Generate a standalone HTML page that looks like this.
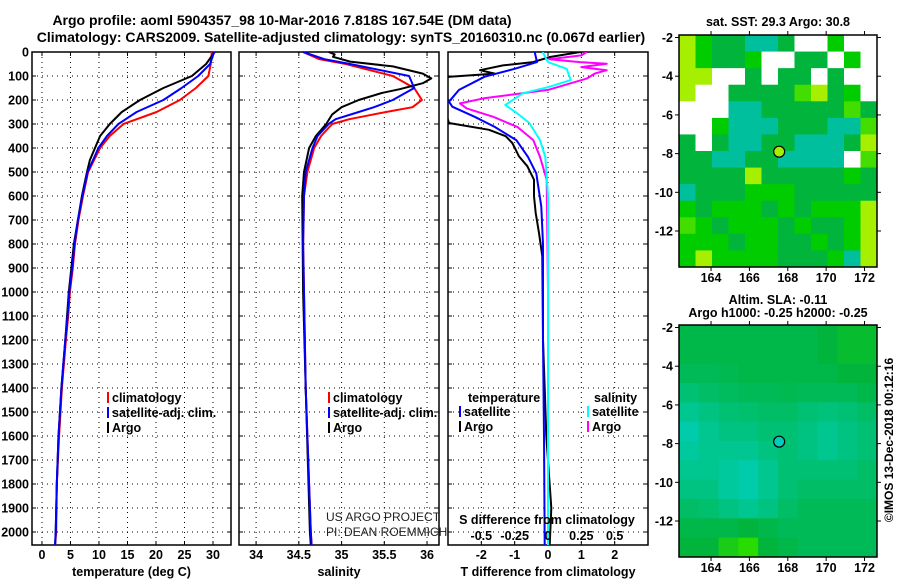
<!DOCTYPE html>
<html><head><meta charset="utf-8"><style>
body{margin:0;background:#fff;}
svg{display:block;font-family:"Liberation Sans",Arial,sans-serif;}
.b{font-weight:bold;font-size:12.5px;fill:#000;}
</style></head><body>
<svg id="c" width="900" height="580" viewBox="0 0 900 580"></svg>
<script>
// ---- data ----
const depthsT=[0,50,100,150,200,250,300,350,400,500,600,700,800,900,1000,1100,1200,1400,1600,1800,2000,2054];
const tempClim=[29.8,29.6,29.2,27.0,24.2,20.1,14.3,11.9,10.2,8.1,7.2,6.4,5.8,5.4,4.9,4.6,4.2,3.5,3.0,2.6,2.5,2.3];
const tempSat=[30.2,29.5,27.4,24.5,21.3,16.6,13.4,11.4,9.9,8.0,7.1,6.3,5.7,5.3,4.8,4.5,4.1,3.4,2.9,2.6,2.4,2.3];
const depthsArgoT=[0,50,100,150,200,250,300,350,400,450,500,600,800,1000,1200,1400,1600,1800,2000,2054];
const tempArgo=[30.3,28.8,26.3,21.3,17.2,14.0,11.9,10.2,9.3,8.4,7.9,7.0,5.6,4.7,4.1,3.4,2.9,2.6,2.4,2.3];
const depthsS=[0,30,50,100,150,200,230,250,280,300,350,400,500,600,800,1000,1400,2000,2054];
const salClim=[34.55,34.74,35.05,35.6,35.85,35.94,35.83,35.52,35.09,34.89,34.76,34.68,34.6,34.56,34.55,34.56,34.58,34.64,34.65];
const salSat=[34.55,34.8,35.1,35.79,35.85,35.6,35.38,35.2,34.93,34.85,34.72,34.66,34.58,34.56,34.55,34.56,34.58,34.64,34.65];
const depthsArgoS=[0,10,20,40,60,90,110,130,155,170,200,230,260,300,350,400,500,600,1000,1400,2000,2054];
const salArgo=[34.85,34.92,34.9,35.1,35.6,35.95,36.05,35.95,35.68,35.48,35.2,35.0,34.89,34.82,34.7,34.62,34.56,34.54,34.55,34.58,34.63,34.64];
const depthsD=[0,42,70,103,158,207,228,270,312,367,437,506,645,800,1200,1600,2054];
const tdiffSat=[-0.4,-0.33,-1.0,-1.9,-2.67,-2.97,-2.87,-2.2,-1.6,-0.95,-0.6,-0.35,-0.2,-0.15,-0.15,-0.12,-0.1];
const depthsDA=[0,21,42,56,76,90,103,117,296,324,351,379,407,435,476,532,601,671,754,851,1200,1400,1600,1900,2054];
const tdiffArgo=[0.97,0.06,-0.45,-1.35,-2.04,-1.6,-2.94,-3.4,-2.97,-1.77,-1.27,-1.07,-0.97,-0.87,-0.62,-0.42,-0.42,-0.37,-0.27,-0.17,-0.15,-0.1,-0.05,0.1,0.05];
const depthsSD=[0,21,42,70,117,145,172,221,256,296,367,437,600,2054];
const sdiffSat=[-0.04,-0.02,0,0.14,0.17,0.01,-0.19,-0.32,-0.23,-0.14,-0.06,-0.02,0,0];
const depthsSDA=[0,14,30,42,49,63,76,90,111,158,193,214,235,270,312,367,437,532,1000,2054];
const sdiffArgo=[0.29,0.25,0.01,0.24,0.44,0.25,0.44,0.35,0.29,0,-0.48,-0.66,-0.61,-0.41,-0.23,-0.11,-0.06,-0.01,0,0];
const depthTicks=[0,100,200,300,400,500,600,700,800,900,1000,1100,1200,1300,1400,1500,1600,1700,1800,1900,2000];
const tTicks=[0,5,10,15,20,25,30];
const sTicks=[34,34.5,35,35.5,36];
const dTicks=[-2,-1,0,1,2];
const sdTicks=[-0.5,-0.25,0,0.25,0.5];
const sdTickLabels=['-0.5','-0.25','0','0.25','0.5'];
const lonTicks=[164,166,168,170,172];
const latTicks=[-2,-4,-6,-8,-10,-12];
// SST map coarse cells: 0 white,1 green,2 dark green,3 teal,4 yellow-green,5 light green
const sstGrid=["412233200100","412210022010","440020220200","400222254210","000332222252","001333222335","202332233324","223322333305","222242222212","322211122222","121112121114","512111212214","111211221214","141111222134"];
// SLA map values (1 teal .. 0 green .. negative bright green)
const slaGrid=[[.1,.1,.1,.1,.1,.1,.1,0,-.1,-.1],[.1,.1,.1,.1,.1,.1,.1,0,-.1,-.1],[.2,.2,.15,.1,.1,.1,.1,.1,0,0],[.4,.3,.25,.2,.2,.15,.2,.2,.2,.1],[.6,.5,.4,.35,.3,.3,.4,.45,.4,.3],[.8,.6,.5,.5,.4,.4,.5,.6,.5,.4],[.7,.6,.6,.6,.5,.4,.5,.6,.5,.4],[.6,.6,.7,.8,.6,.4,.4,.4,.4,.3],[.5,.5,.7,.8,.6,.4,.3,.3,.3,.3],[.3,.35,.5,.6,.5,.3,.2,.2,.2,.2],[.1,.1,.1,0,.1,.2,.2,.2,.2,.2],[0,0,-.3,-.5,0,.1,.2,.2,.2,.2]];
const argoLon=167.55, argoLat=-7.9;

// ---- helpers ----
const svg=document.getElementById('c');
const NS='http://www.w3.org/2000/svg';
function mk(tag,attrs,parent){const e=document.createElementNS(NS,tag);for(const k in attrs)e.setAttribute(k,attrs[k]);(parent||svg).appendChild(e);return e;}
function txt(s,x,y,anchor,cls,parent){const t=mk('text',{x:x,y:y,'text-anchor':anchor||'middle','class':cls||'b'},parent);t.textContent=s;return t;}
const Y0=52,Y1=545;
const yD=d=>Y0+d*0.24;
const panels=[
 {x0:32,x1:231,v0:-1.75,v1:33.16,ticks:tTicks,name:'temperature-panel',title:'temperature (deg C)'},
 {x0:239,x1:439,v0:33.8,v1:36.14,ticks:sTicks,name:'salinity-panel',title:'salinity'},
 {x0:448,x1:648,v0:-3.0,v1:3.0,ticks:dTicks,name:'difference-panel',title:'T difference from climatology'}];
panels.forEach(p=>{p.f=v=>p.x0+(v-p.v0)/(p.v1-p.v0)*(p.x1-p.x0);});

let t1=txt('Argo profile: aoml 5904357_98 10-Mar-2016 7.818S 167.54E (DM data)',282,25,'middle','b');
t1.setAttribute('style','font-size:14px');
let t2=txt('Climatology: CARS2009. Satellite-adjusted climatology: synTS_20160310.nc (0.067d earlier)',341,42,'middle','b');
t2.setAttribute('style','font-size:14px');

depthTicks.forEach(d=>{const e=txt(String(d),29,yD(d)+4.5,'end');

});

panels.forEach((p,i)=>{
 const g=mk('g',{});
 
 
 depthTicks.forEach(d=>{const l=mk('line',{x1:p.x0,x2:p.x1,y1:yD(d),y2:yD(d),stroke:'#000','stroke-width':1,'stroke-dasharray':'1,4'},g);
  
  mk('line',{x1:p.x0,x2:p.x0+4,y1:yD(d),y2:yD(d),stroke:'#000'},g);mk('line',{x1:p.x1-4,x2:p.x1,y1:yD(d),y2:yD(d),stroke:'#000'},g);});
 p.ticks.forEach(v=>{const x=p.f(v);const l=mk('line',{x1:x,x2:x,y1:Y0,y2:Y1,stroke:'#000','stroke-width':1,'stroke-dasharray':'1,4'},g);
  
  mk('line',{x1:x,x2:x,y1:Y1-4,y2:Y1,stroke:'#000'},g);mk('line',{x1:x,x2:x,y1:Y0,y2:Y0+4,stroke:'#000'},g);
  const e=txt(String(v),x,559,'middle','b',g);
  });
 const r=mk('rect',{x:p.x0,y:Y0,width:p.x1-p.x0,height:Y1-Y0,fill:'none',stroke:'#000','stroke-width':1.5},g);
 
 const tt=txt(p.title,(p.x0+p.x1)/2,576,'middle','b',g);
 
});

const cp=mk('clipPath',{id:'cp3'});mk('rect',{x:448,y:52,width:200,height:493},cp);
function line(p,depths,vals,color,name,clip){
 const pts=depths.map((d,i)=>p.f(vals[i]).toFixed(1)+','+yD(d).toFixed(1)).join(' ');
 const a={points:pts,fill:'none',stroke:color,'stroke-width':2,'stroke-linejoin':'round'};
 if(clip)a['clip-path']='url(#cp3)';
 const e=mk('polyline',a);
 
 
}
const P=panels;
line(P[0],depthsT,tempClim,'#ff0000','temp-climatology-line');
line(P[0],depthsArgoT,tempArgo,'#000000','temp-argo-line');
line(P[0],depthsT,tempSat,'#0000ff','temp-satellite-line');
line(P[1],depthsS,salClim,'#ff0000','salinity-climatology-line');
line(P[1],depthsArgoS,salArgo,'#000000','salinity-argo-line');
line(P[1],depthsS,salSat,'#0000ff','salinity-satellite-line');
const sdP={f:v=>P[2].f(v*4)};
line(P[2],depthsDA,tdiffArgo,'#000000','tdiff-argo-line',true);
line(P[2],depthsD,tdiffSat,'#0000ff','tdiff-satellite-line',true);
line(sdP,depthsSDA,sdiffArgo,'#ff00ff','sdiff-argo-line',true);
line(sdP,depthsSD,sdiffSat,'#00ffff','sdiff-satellite-line',true);

function leg(x,y,color,label){const g=mk('g',{});
 
 
 mk('rect',{x:x,y:y-10,width:2,height:11,fill:color},g);txt(label,x+5,y,'start','b',g);}
[['#ff0000','climatology'],['#0000ff','satellite-adj. clim.'],['#000','Argo']].forEach((e,i)=>{leg(107,402+i*15,e[0],e[1]);leg(328,402+i*15,e[0],e[1]);});
let lh=txt('temperature',468,402,'start');
let ls=txt('salinity',594,402,'start');
leg(459,416,'#0000ff','satellite');leg(459,431,'#000','Argo');
leg(587,416,'#00ffff','satellite');leg(587,431,'#ff00ff','Argo');
let us=txt('US ARGO PROJECT',326,521,'start');us.setAttribute('class','');us.setAttribute('style','font-size:12px;fill:#222');

let pi=txt('PI: DEAN ROEMMICH',326,536,'start');pi.setAttribute('class','');pi.setAttribute('style','font-size:12px;fill:#222');

let sdt=txt('S difference from climatology',547,524,'middle');
sdTicks.forEach((v,i)=>{const e=txt(sdTickLabels[i],sdP.f(v),540,'middle');
});

const MX0=679,MX1=877,LON0=162.33,LON1=172.65;
const mx=l=>MX0+(l-LON0)/(LON1-LON0)*(MX1-MX0);
function mapFrame(Y0m,Y1m,name){
 const LAT0=-1.87,LAT1=-13.86;
 const my=l=>Y0m+(l-LAT0)/(LAT1-LAT0)*(Y1m-Y0m);
 const g=mk('g',{});
 return {g,my};
}
const sstCols={0:'#ffffff',1:'#00cc00',2:'#00b43c',3:'#00bf9c',4:'#a6ef00',5:'#44dd00'};
const m1=mapFrame(35,267,'sst-map');
const rows=sstGrid.length,cols=sstGrid[0].length,cw=(MX1-MX0)/cols,chh=(267-35)/rows;
sstGrid.forEach((row,r)=>{[...row].forEach((c,k)=>{const e=mk('rect',{x:MX0+k*cw,y:35+r*chh,width:cw+0.5,height:chh+0.5,fill:sstCols[c]},m1.g);
 });});
const m2=mapFrame(325,557,'sla-map');
const sr=slaGrid.length,sc=slaGrid[0].length,sw=(MX1-MX0)/sc,shh=(557-325)/sr;
function slaColor(v){if(v>=0){return `rgb(0,${Math.round(180+30*v)},${Math.round(60+140*v)})`;}const a=-v*2;return `rgb(${Math.round(40*a)},${Math.round(180+40*a)},${Math.round(60-60*a)})`;}
slaGrid.forEach((row,r)=>row.forEach((v,k)=>{const e=mk('rect',{x:MX0+k*sw,y:325+r*shh,width:sw+0.5,height:shh+0.5,fill:slaColor(v)},m2.g);
 }));
[[m1,35,267,'#a6ef00'],[m2,325,557,'#00ccbb']].forEach(([m,a,b,fc])=>{
 mk('rect',{x:MX0,y:a,width:MX1-MX0,height:b-a,fill:'none',stroke:'#000','stroke-width':1.5},m.g);
 lonTicks.forEach(l=>{const x=mx(l);mk('line',{x1:x,x2:x,y1:a-4,y2:a,stroke:'#000'},m.g);mk('line',{x1:x,x2:x,y1:b,y2:b+4,stroke:'#000'},m.g);
  const e=txt(String(l),x,b+15,'middle','b',m.g);});
 latTicks.forEach(l=>{const y=m.my(l);mk('line',{x1:MX0-4,x2:MX0,y1:y,y2:y,stroke:'#000'},m.g);mk('line',{x1:MX1,x2:MX1+4,y1:y,y2:y,stroke:'#000'},m.g);
  const e=txt(String(l),MX0-6,y+4.5,'end','b',m.g);});
 const c=mk('circle',{cx:mx(argoLon),cy:m.my(argoLat),r:5.5,fill:fc,stroke:'#000','stroke-width':1.2},m.g);
 
});
let mt1=txt('sat. SST: 29.3 Argo: 30.8',778,26);
let mt2=txt('Altim. SLA: -0.11',778,304);
let mt3=txt('Argo h1000: -0.25 h2000: -0.25',778,317);
let cr=txt('©IMOS 13-Dec-2018 00:12:16',0,0,'middle','');cr.setAttribute('style','font-size:12px');
cr.setAttribute('transform','translate(893,440) rotate(-90)');

</script>
</body></html>
